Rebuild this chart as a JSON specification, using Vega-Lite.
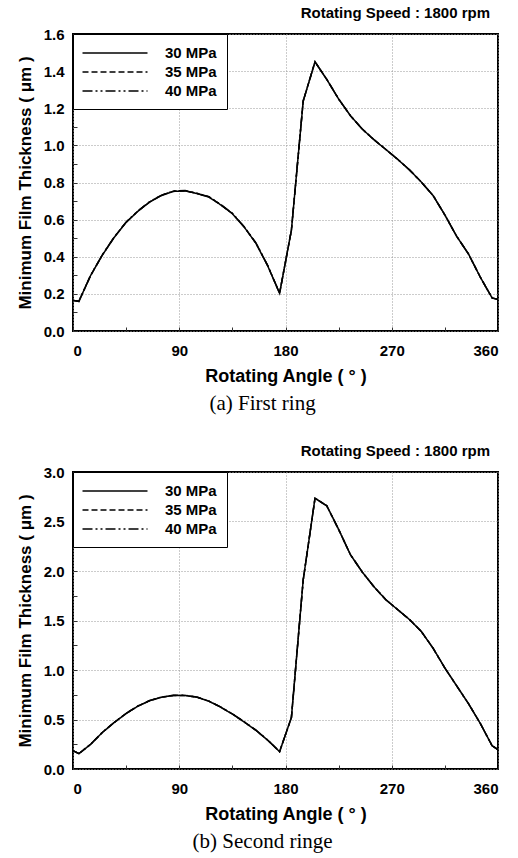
{
  "$schema": "https://vega.github.io/schema/vega-lite/v6.json",
  "background": "white",
  "padding": {"left": 15, "top": 5, "right": 6, "bottom": 2},
  "config": {
    "font": "Liberation Sans",
    "view": {"stroke": "black", "strokeWidth": 2},
    "axis": {
      "labelFont": "Liberation Sans", "labelFontWeight": "bold", "labelFontSize": 15, "labelColor": "black",
      "titleFont": "Liberation Sans", "titleFontWeight": "bold", "titleColor": "black",
      "domain": false, "tickColor": "#333", "tickSize": -4, "tickWidth": 1,
      "gridColor": "#999", "gridDash": [1, 2], "gridWidth": 1
    },
    "axisX": {"labelPadding": 16, "titlePadding": 9, "titleFontSize": 18},
    "axisY": {"labelPadding": 13, "titlePadding": 9, "titleFontSize": 17},
    "legend": {
      "orient": "top-left", "offset": 0, "title": null,
      "strokeColor": "black", "fillColor": "white", "padding": 10,
      "labelFont": "Liberation Sans", "labelFontWeight": "bold", "labelFontSize": 15, "labelColor": "black",
      "symbolType": "M-4,0H4", "symbolSize": 264, "symbolStrokeWidth": 1.5, "symbolStrokeColor": "black",
      "symbolOffset": 23, "labelOffset": 41, "rowPadding": 2
    }
  },
  "datasets": {
    "ring1": [
      {"angle": 0, "30 MPa": 0.165, "35 MPa": 0.165, "40 MPa": 0.165},
      {"angle": 5, "30 MPa": 0.16, "35 MPa": 0.16, "40 MPa": 0.16},
      {"angle": 15, "30 MPa": 0.3, "35 MPa": 0.3, "40 MPa": 0.301},
      {"angle": 25, "30 MPa": 0.41, "35 MPa": 0.411, "40 MPa": 0.412},
      {"angle": 35, "30 MPa": 0.505, "35 MPa": 0.506, "40 MPa": 0.507},
      {"angle": 45, "30 MPa": 0.585, "35 MPa": 0.586, "40 MPa": 0.587},
      {"angle": 55, "30 MPa": 0.645, "35 MPa": 0.646, "40 MPa": 0.647},
      {"angle": 65, "30 MPa": 0.695, "35 MPa": 0.696, "40 MPa": 0.697},
      {"angle": 75, "30 MPa": 0.73, "35 MPa": 0.731, "40 MPa": 0.732},
      {"angle": 85, "30 MPa": 0.752, "35 MPa": 0.753, "40 MPa": 0.754},
      {"angle": 95, "30 MPa": 0.755, "35 MPa": 0.756, "40 MPa": 0.757},
      {"angle": 105, "30 MPa": 0.74, "35 MPa": 0.741, "40 MPa": 0.742},
      {"angle": 115, "30 MPa": 0.722, "35 MPa": 0.723, "40 MPa": 0.724},
      {"angle": 125, "30 MPa": 0.68, "35 MPa": 0.681, "40 MPa": 0.682},
      {"angle": 135, "30 MPa": 0.632, "35 MPa": 0.633, "40 MPa": 0.634},
      {"angle": 145, "30 MPa": 0.56, "35 MPa": 0.561, "40 MPa": 0.562},
      {"angle": 155, "30 MPa": 0.472, "35 MPa": 0.473, "40 MPa": 0.474},
      {"angle": 165, "30 MPa": 0.35, "35 MPa": 0.351, "40 MPa": 0.352},
      {"angle": 175, "30 MPa": 0.203, "35 MPa": 0.203, "40 MPa": 0.204},
      {"angle": 185, "30 MPa": 0.543, "35 MPa": 0.543, "40 MPa": 0.543},
      {"angle": 195, "30 MPa": 1.239, "35 MPa": 1.239, "40 MPa": 1.239},
      {"angle": 205, "30 MPa": 1.45, "35 MPa": 1.45, "40 MPa": 1.45},
      {"angle": 215, "30 MPa": 1.355, "35 MPa": 1.355, "40 MPa": 1.355},
      {"angle": 225, "30 MPa": 1.25, "35 MPa": 1.25, "40 MPa": 1.25},
      {"angle": 235, "30 MPa": 1.16, "35 MPa": 1.16, "40 MPa": 1.16},
      {"angle": 245, "30 MPa": 1.088, "35 MPa": 1.088, "40 MPa": 1.088},
      {"angle": 255, "30 MPa": 1.03, "35 MPa": 1.03, "40 MPa": 1.03},
      {"angle": 265, "30 MPa": 0.978, "35 MPa": 0.978, "40 MPa": 0.978},
      {"angle": 275, "30 MPa": 0.925, "35 MPa": 0.925, "40 MPa": 0.925},
      {"angle": 285, "30 MPa": 0.868, "35 MPa": 0.868, "40 MPa": 0.868},
      {"angle": 295, "30 MPa": 0.803, "35 MPa": 0.803, "40 MPa": 0.803},
      {"angle": 305, "30 MPa": 0.73, "35 MPa": 0.73, "40 MPa": 0.73},
      {"angle": 315, "30 MPa": 0.625, "35 MPa": 0.625, "40 MPa": 0.625},
      {"angle": 325, "30 MPa": 0.51, "35 MPa": 0.51, "40 MPa": 0.51},
      {"angle": 335, "30 MPa": 0.415, "35 MPa": 0.415, "40 MPa": 0.415},
      {"angle": 345, "30 MPa": 0.29, "35 MPa": 0.29, "40 MPa": 0.29},
      {"angle": 355, "30 MPa": 0.178, "35 MPa": 0.178, "40 MPa": 0.178},
      {"angle": 360, "30 MPa": 0.17, "35 MPa": 0.17, "40 MPa": 0.17}
    ],
    "ring2": [
      {"angle": 0, "30 MPa": 0.185, "35 MPa": 0.185, "40 MPa": 0.185},
      {"angle": 5, "30 MPa": 0.155, "35 MPa": 0.155, "40 MPa": 0.155},
      {"angle": 15, "30 MPa": 0.25, "35 MPa": 0.25, "40 MPa": 0.251},
      {"angle": 25, "30 MPa": 0.37, "35 MPa": 0.371, "40 MPa": 0.372},
      {"angle": 35, "30 MPa": 0.47, "35 MPa": 0.471, "40 MPa": 0.472},
      {"angle": 45, "30 MPa": 0.56, "35 MPa": 0.561, "40 MPa": 0.562},
      {"angle": 55, "30 MPa": 0.635, "35 MPa": 0.636, "40 MPa": 0.637},
      {"angle": 65, "30 MPa": 0.69, "35 MPa": 0.691, "40 MPa": 0.692},
      {"angle": 75, "30 MPa": 0.725, "35 MPa": 0.726, "40 MPa": 0.727},
      {"angle": 85, "30 MPa": 0.742, "35 MPa": 0.743, "40 MPa": 0.744},
      {"angle": 95, "30 MPa": 0.742, "35 MPa": 0.743, "40 MPa": 0.744},
      {"angle": 105, "30 MPa": 0.725, "35 MPa": 0.726, "40 MPa": 0.727},
      {"angle": 115, "30 MPa": 0.685, "35 MPa": 0.686, "40 MPa": 0.687},
      {"angle": 125, "30 MPa": 0.625, "35 MPa": 0.626, "40 MPa": 0.627},
      {"angle": 135, "30 MPa": 0.555, "35 MPa": 0.556, "40 MPa": 0.557},
      {"angle": 145, "30 MPa": 0.475, "35 MPa": 0.476, "40 MPa": 0.477},
      {"angle": 155, "30 MPa": 0.39, "35 MPa": 0.391, "40 MPa": 0.392},
      {"angle": 165, "30 MPa": 0.29, "35 MPa": 0.291, "40 MPa": 0.292},
      {"angle": 175, "30 MPa": 0.175, "35 MPa": 0.175, "40 MPa": 0.176},
      {"angle": 185, "30 MPa": 0.52, "35 MPa": 0.52, "40 MPa": 0.52},
      {"angle": 195, "30 MPa": 1.91, "35 MPa": 1.91, "40 MPa": 1.91},
      {"angle": 205, "30 MPa": 2.735, "35 MPa": 2.735, "40 MPa": 2.735},
      {"angle": 215, "30 MPa": 2.658, "35 MPa": 2.658, "40 MPa": 2.658},
      {"angle": 225, "30 MPa": 2.42, "35 MPa": 2.42, "40 MPa": 2.42},
      {"angle": 235, "30 MPa": 2.165, "35 MPa": 2.165, "40 MPa": 2.165},
      {"angle": 245, "30 MPa": 1.99, "35 MPa": 1.99, "40 MPa": 1.99},
      {"angle": 255, "30 MPa": 1.84, "35 MPa": 1.84, "40 MPa": 1.84},
      {"angle": 265, "30 MPa": 1.71, "35 MPa": 1.71, "40 MPa": 1.71},
      {"angle": 275, "30 MPa": 1.61, "35 MPa": 1.61, "40 MPa": 1.61},
      {"angle": 285, "30 MPa": 1.51, "35 MPa": 1.51, "40 MPa": 1.51},
      {"angle": 295, "30 MPa": 1.39, "35 MPa": 1.39, "40 MPa": 1.39},
      {"angle": 305, "30 MPa": 1.22, "35 MPa": 1.22, "40 MPa": 1.22},
      {"angle": 315, "30 MPa": 1.02, "35 MPa": 1.02, "40 MPa": 1.02},
      {"angle": 325, "30 MPa": 0.84, "35 MPa": 0.84, "40 MPa": 0.84},
      {"angle": 335, "30 MPa": 0.66, "35 MPa": 0.66, "40 MPa": 0.66},
      {"angle": 345, "30 MPa": 0.46, "35 MPa": 0.46, "40 MPa": 0.46},
      {"angle": 355, "30 MPa": 0.235, "35 MPa": 0.235, "40 MPa": 0.235},
      {"angle": 360, "30 MPa": 0.195, "35 MPa": 0.195, "40 MPa": 0.195}
    ]
  },
  "spacing": 29,
  "resolve": {"scale": {"strokeDash": "independent"}, "legend": {"strokeDash": "independent"}},
  "vconcat": [
    {
      "title": {"text": "(a) First ring", "orient": "bottom", "anchor": "middle", "frame": "bounds", "font": "Liberation Serif", "fontSize": 21, "fontWeight": "normal", "color": "black", "offset": 7, "dx": 4},
      "vconcat": [
        {
          "width": 425, "height": 297,
          "title": {"text": "Rotating Speed : 1800 rpm", "anchor": "end", "frame": "group", "font": "Liberation Sans", "fontSize": 15, "fontWeight": "bold", "color": "black", "offset": 6, "dx": -8},
          "data": {"name": "ring1"},
          "transform": [{"fold": ["30 MPa", "35 MPa", "40 MPa"], "as": ["pressure", "value"]}],
          "mark": {"type": "line", "color": "black", "strokeWidth": 1.5},
          "encoding": {
            "x": {"field": "angle", "type": "quantitative", "scale": {"domain": [0, 360], "nice": false},
              "axis": {"title": "Rotating Angle ( ° )", "values": [0, 45, 90, 135, 180, 225, 270, 315, 360],
                "labelExpr": "datum.value % 90 === 0 ? datum.label : ''",
                "gridOpacity": {"condition": {"test": "datum.value % 90 === 0", "value": 1}, "value": 0}}},
            "y": {"field": "value", "type": "quantitative", "scale": {"domain": [0, 1.6], "nice": false},
              "axis": {"title": "Minimum Film Thickness ( μm )", "values": [0, 0.1, 0.2, 0.3, 0.4, 0.5, 0.6, 0.7, 0.8, 0.9, 1.0, 1.1, 1.2, 1.3, 1.4, 1.5, 1.6],
                "labelExpr": "round(datum.value * 10) % 2 === 0 ? format(datum.value, '.1f') : ''",
                "gridOpacity": {"condition": {"test": "round(datum.value * 10) % 2 === 0", "value": 1}, "value": 0}}},
            "strokeDash": {"field": "pressure", "type": "nominal",
              "scale": {"domain": ["30 MPa", "35 MPa", "40 MPa"], "range": [[1, 0], [6, 3], [10, 3, 2, 3, 2, 3]]}}
          }
        }
      ]
    },
    {
      "title": {"text": "(b) Second ringe", "orient": "bottom", "anchor": "middle", "frame": "bounds", "font": "Liberation Serif", "fontSize": 21, "fontWeight": "normal", "color": "black", "offset": 7, "dx": 4},
      "vconcat": [
        {
          "width": 425, "height": 297,
          "title": {"text": "Rotating Speed : 1800 rpm", "anchor": "end", "frame": "group", "font": "Liberation Sans", "fontSize": 15, "fontWeight": "bold", "color": "black", "offset": 6, "dx": -8},
          "data": {"name": "ring2"},
          "transform": [{"fold": ["30 MPa", "35 MPa", "40 MPa"], "as": ["pressure", "value"]}],
          "mark": {"type": "line", "color": "black", "strokeWidth": 1.5},
          "encoding": {
            "x": {"field": "angle", "type": "quantitative", "scale": {"domain": [0, 360], "nice": false},
              "axis": {"title": "Rotating Angle ( ° )", "values": [0, 45, 90, 135, 180, 225, 270, 315, 360],
                "labelExpr": "datum.value % 90 === 0 ? datum.label : ''",
                "gridOpacity": {"condition": {"test": "datum.value % 90 === 0", "value": 1}, "value": 0}}},
            "y": {"field": "value", "type": "quantitative", "scale": {"domain": [0, 3], "nice": false},
              "axis": {"title": "Minimum Film Thickness ( μm )", "values": [0, 0.25, 0.5, 0.75, 1.0, 1.25, 1.5, 1.75, 2.0, 2.25, 2.5, 2.75, 3.0],
                "labelExpr": "round(datum.value * 4) % 2 === 0 ? format(datum.value, '.1f') : ''",
                "gridOpacity": {"condition": {"test": "round(datum.value * 4) % 2 === 0", "value": 1}, "value": 0}}},
            "strokeDash": {"field": "pressure", "type": "nominal",
              "scale": {"domain": ["30 MPa", "35 MPa", "40 MPa"], "range": [[1, 0], [6, 3], [10, 3, 2, 3, 2, 3]]}}
          }
        }
      ]
    }
  ]
}
